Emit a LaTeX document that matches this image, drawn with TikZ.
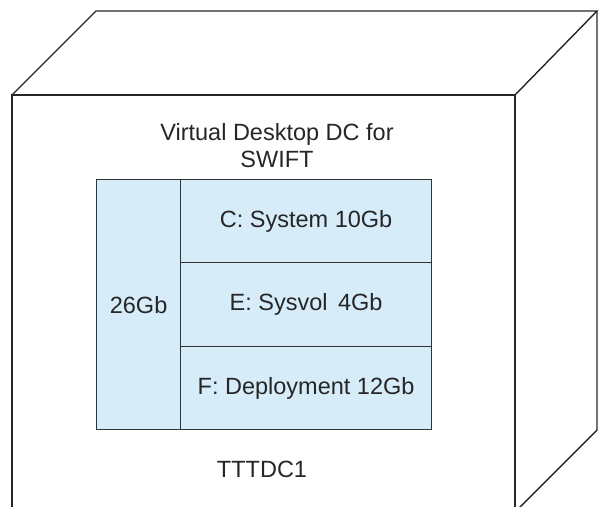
\documentclass[tikz,border=0pt]{standalone}
\usepackage{fontspec}
\setmainfont{Liberation Sans}
\begin{document}
\begin{tikzpicture}[x=1pt,y=-1pt,
  edge/.style={draw=black!85,line width=1.4pt},
  part/.style={draw=black!80,line width=1.2pt,fill=partfill},
  lbl/.style={font=\fontsize{23.5}{27}\selectfont,text=black!85,align=center,inner sep=0pt}]
\definecolor{partfill}{HTML}{D6ECF9}
\useasboundingbox (0,0) rectangle (605,506);
\clip (0,0) rectangle (605,506);
% cube outline
\coordinate (fl) at (12,95);
\coordinate (fr) at (515,95);
\coordinate (bl) at (96,11);
\coordinate (br) at (597,11);
\coordinate (brb) at (597,430);
\coordinate (flb) at (12,520);
\coordinate (frb) at (515,520);
\coordinate (diagb) at (507,520);
\draw[edge] (flb) -- (fl) -- (fr) -- (frb);
\draw[edge] (fl) -- (bl) -- (br) -- (fr);
\draw[edge] (br) -- (brb) -- (diagb);
% partitions
\node[part,minimum width=84,minimum height=250,anchor=north west] (total) at (96,179) {};
\node[part,minimum width=251,minimum height=83,anchor=north west] (c) at (180,179) {};
\node[part,minimum width=251,minimum height=84,anchor=north west] (e) at (180,262) {};
\node[part,minimum width=251,minimum height=83,anchor=north west] (f) at (180,346) {};
\node[lbl] (tl) at (total.center) {26Gb};
\node[lbl] (cl) at (c.center) {C: System 10Gb};
\node[lbl] (el) at (e.center) {E: Sysvol\ \,4Gb};
\node[lbl] (flab) at (f.center) {F: Deployment 12Gb};
\node[lbl] (title) at (277,145.5) {Virtual Desktop DC for\\SWIFT};
\node[lbl] (name) at (262,469) {TTTDC1};
\end{tikzpicture}
\end{document}
